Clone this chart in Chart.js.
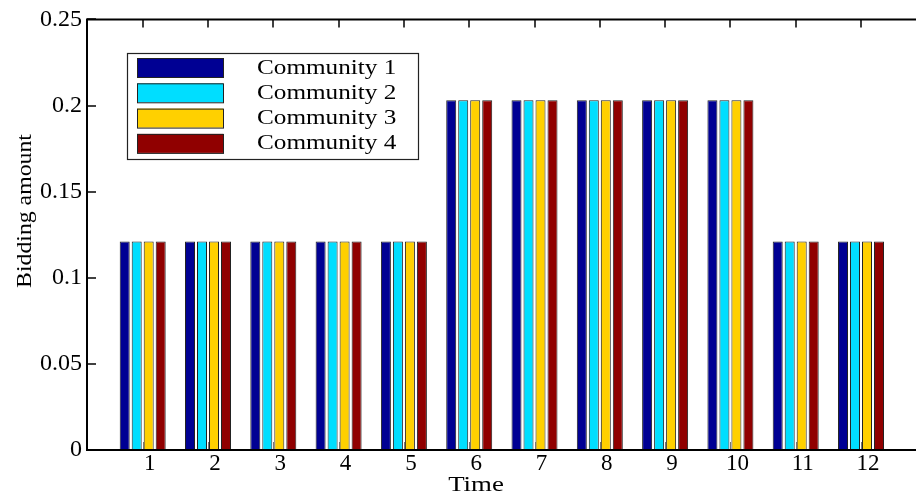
<!DOCTYPE html>
<html>
<head>
<meta charset="utf-8">
<script src="https://cdn.jsdelivr.net/npm/chart.js@4.4.1/dist/chart.umd.min.js"></script>
<style>
  html, body { margin: 0; padding: 0; background: #fff; }
  #wrap { width: 916px; height: 497px; }
  .warm { font-family: 'Liberation Serif'; position: absolute; left: -999px; top: -999px; }
</style>
</head>
<body>
<span class="warm">0.25 Community Time</span>
<div id="wrap"><canvas id="c" width="916" height="497"></canvas></div>
<script>
// Time slots and their axis labels
const times = [1, 2, 3, 4, 5, 6, 7, 8, 9, 10, 11, 12];
const timeLabels = ["1", "2", "3", "4", "5", "6", "7", "8", "9", "10", "11", "12"];

// Bidding amount per community and time slot
const community1 = [0.121, 0.121, 0.121, 0.121, 0.121, 0.203, 0.203, 0.203, 0.203, 0.203, 0.121, 0.121];
const community2 = [0.121, 0.121, 0.121, 0.121, 0.121, 0.203, 0.203, 0.203, 0.203, 0.203, 0.121, 0.121];
const community3 = [0.121, 0.121, 0.121, 0.121, 0.121, 0.203, 0.203, 0.203, 0.203, 0.203, 0.121, 0.121];
const community4 = [0.121, 0.121, 0.121, 0.121, 0.121, 0.203, 0.203, 0.203, 0.203, 0.203, 0.121, 0.121];

const seriesNames = ["Community 1", "Community 2", "Community 3", "Community 4"];
const yTickLabels = ["0", "0.05", "0.1", "0.15", "0.2", "0.25"];

const colors = ["#000093", "#00DEFF", "#FFD000", "#900000"];
const FONT = "'Liberation Serif', serif";

function toPoints(vals) {
  return times.map((t, i) => ({ x: t, y: vals[i] }));
}

const seriesValues = [community1, community2, community3, community4];
const datasets = seriesValues.map((vals, k) => ({
  label: seriesNames[k],
  data: toPoints(vals),
  backgroundColor: colors[k],
  borderColor: "#222",
  borderWidth: 1,
  borderSkipped: false,
  categoryPercentage: 0.735,
  barPercentage: 0.833
}));

// draw text stretched horizontally like the original typesetting
function wideText(ctx, text, x, y, sx, align) {
  ctx.save();
  ctx.translate(x, y);
  ctx.scale(sx, 1);
  ctx.textAlign = align || "left";
  ctx.fillText(text, 0, 0);
  ctx.restore();
}

const framePlugin = {
  id: "frame",
  afterDatasetsDraw(chart) {
    const ctx = chart.ctx;
    const a = chart.chartArea;
    const xs = chart.scales.x, ys = chart.scales.y;
    ctx.save();
    // small inward ticks at the bottom
    ctx.strokeStyle = "#777";
    ctx.lineWidth = 1;
    times.forEach(t => {
      const px = Math.round(xs.getPixelForValue(t)) + 0.5;
      ctx.beginPath();
      ctx.moveTo(px, a.bottom);
      ctx.lineTo(px, a.bottom - 8);
      ctx.stroke();
    });
    // axes box (left, top, bottom)
    ctx.strokeStyle = "#000";
    ctx.lineWidth = 2;
    ctx.beginPath();
    ctx.moveTo(a.right + 2, a.top);
    ctx.lineTo(a.left, a.top);
    ctx.lineTo(a.left, a.bottom);
    ctx.lineTo(a.right + 2, a.bottom);
    ctx.stroke();
    // top ticks
    ctx.lineWidth = 1.5;
    times.forEach(t => {
      const px = Math.round(xs.getPixelForValue(t));
      ctx.beginPath();
      ctx.moveTo(px, a.top);
      ctx.lineTo(px, a.top + 8);
      ctx.stroke();
    });
    // left ticks
    ys.ticks.forEach(tk => {
      const py = Math.round(ys.getPixelForValue(tk.value));
      ctx.beginPath();
      ctx.moveTo(a.left, py);
      ctx.lineTo(a.left + 9, py);
      ctx.stroke();
    });

    // legend box
    const lx = 127, ly = 53, lw = 291, lh = 106;
    ctx.fillStyle = "#fff";
    ctx.fillRect(lx, ly, lw, lh);
    ctx.strokeStyle = "#222";
    ctx.lineWidth = 1.2;
    ctx.strokeRect(lx + 0.5, ly + 0.5, lw, lh);
    ctx.font = "21px " + FONT;
    ctx.textBaseline = "middle";
    chart.data.datasets.forEach((ds, k) => {
      const top = 58 + k * 25.3;
      ctx.fillStyle = ds.backgroundColor;
      ctx.fillRect(137, top, 86, 19);
      ctx.strokeStyle = "#222";
      ctx.lineWidth = 1;
      ctx.strokeRect(137.5, top + 0.5, 86, 19);
      ctx.fillStyle = "#000";
      wideText(ctx, ds.label, 257, top + 10, 1.2, "left");
    });

    // axis titles
    ctx.fillStyle = "#000";
    ctx.font = "22px " + FONT;
    ctx.textBaseline = "alphabetic";
    wideText(ctx, "Time", 476, 491, 1.22, "center");
    ctx.save();
    ctx.translate(31, 211);
    ctx.rotate(-Math.PI / 2);
    wideText(ctx, "Bidding amount", 0, 0, 1.08, "center");
    ctx.restore();
    ctx.restore();
  }
};

function build() {
  new Chart(document.getElementById("c"), {
    type: "bar",
    data: { datasets },
    options: {
      responsive: false,
      animation: false,
      devicePixelRatio: 1,
      layout: { padding: { top: 19, right: 0, left: 0, bottom: 0 } },
      plugins: {
        legend: { display: false },
        tooltip: { enabled: false }
      },
      scales: {
        x: {
          type: "linear",
          offset: false,
          min: 0.147,
          max: 12.842,
          grid: { display: false, offset: false, drawTicks: false },
          border: { display: false },
          afterBuildTicks: s => { s.ticks = times.map(v => ({ value: v })); },
          afterFit: s => { s.height = 47; },
          ticks: {
            autoSkip: false,
            maxRotation: 0,
            padding: 0,
            labelOffset: 7,
            color: "#000",
            font: { family: FONT, size: 23 },
            callback: (v, i) => timeLabels[i]
          }
        },
        y: {
          min: 0,
          max: 0.25,
          grid: { display: false, drawTicks: false },
          border: { display: false },
          afterBuildTicks: s => { s.ticks = yTickLabels.map((_, i) => ({ value: i * 0.05 })); },
          afterFit: s => { s.width = 87; },
          ticks: {
            padding: 5,
            color: "#000",
            font: { family: FONT, size: 24 },
            callback: (v, i) => yTickLabels[i]
          }
        }
      }
    },
    plugins: [framePlugin]
  });
}

if (document.fonts && document.fonts.load) {
  Promise.all([
    document.fonts.load("22px 'Liberation Serif'"),
    document.fonts.ready
  ]).then(build, build);
} else {
  build();
}
</script>
</body>
</html>
